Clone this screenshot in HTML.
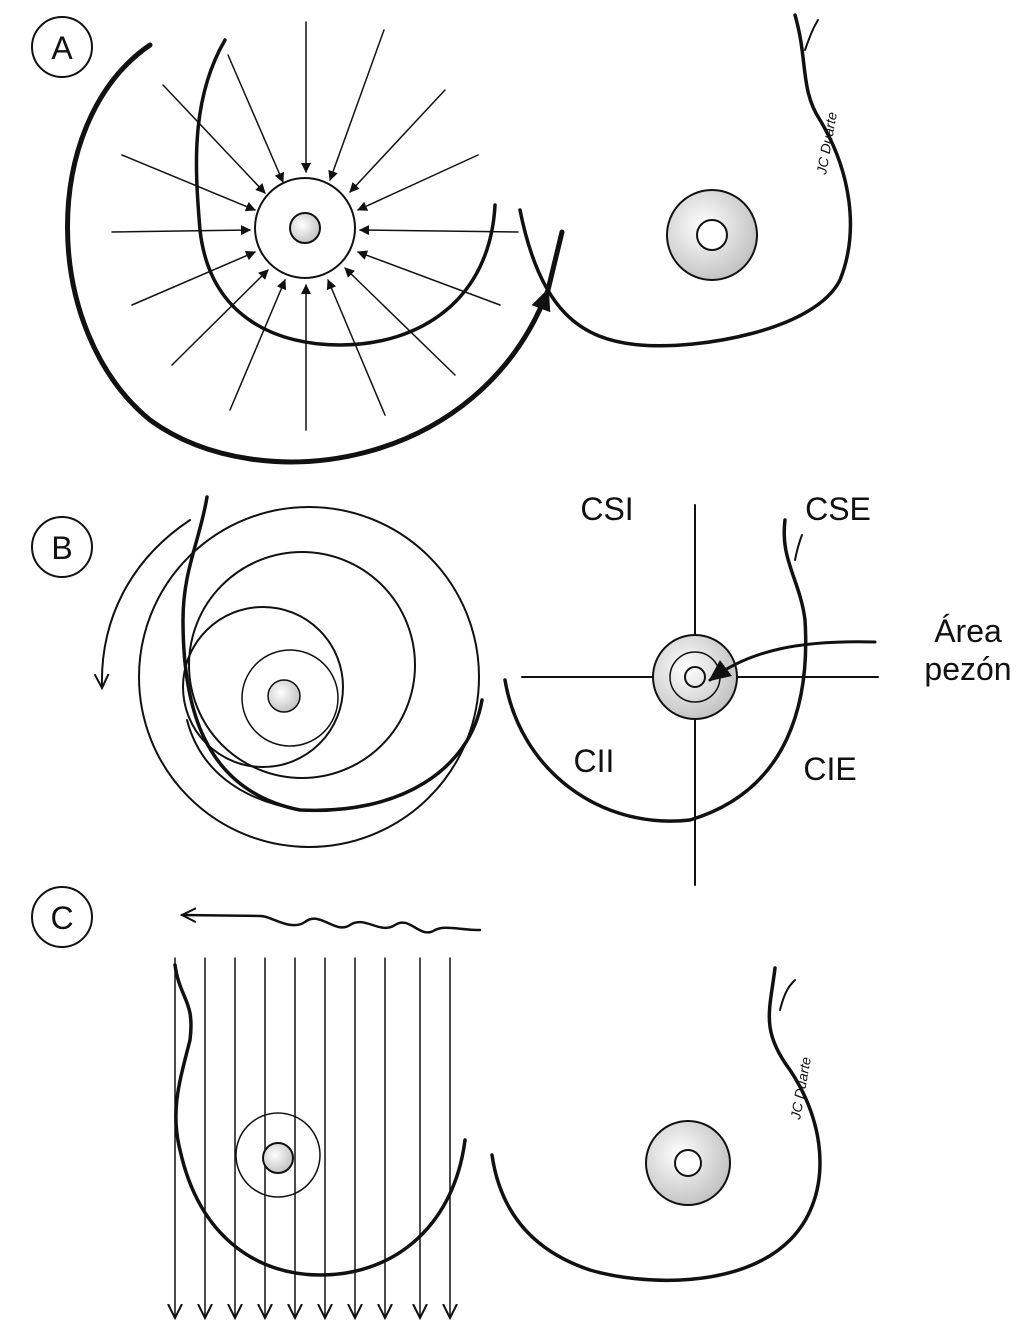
<!DOCTYPE html>
<html><head><meta charset="utf-8"><style>
html,body{margin:0;padding:0;background:#fff}
svg{display:block}
text{font-family:"Liberation Sans",sans-serif;fill:#111}
</style></head><body>
<svg width="1024" height="1336" viewBox="0 0 1024 1336" xmlns="http://www.w3.org/2000/svg">
<defs>
<marker id="ah" markerWidth="10" markerHeight="10" refX="9" refY="5" orient="auto" markerUnits="userSpaceOnUse">
<path d="M0,0 L10,5 L0,10 Z" fill="#111"/></marker>
<marker id="ahb" markerWidth="22" markerHeight="20" refX="20" refY="10" orient="auto" markerUnits="userSpaceOnUse">
<path d="M0,0 L22,10 L0,20 Z" fill="#111"/></marker>
<marker id="ao" markerWidth="16" markerHeight="16" refX="14" refY="8" orient="auto" markerUnits="userSpaceOnUse">
<path d="M0,1 L14,8 L0,15" fill="none" stroke="#111" stroke-width="2"/></marker>
<radialGradient id="g" cx="0.4" cy="0.4" r="0.7"><stop offset="0" stop-color="#fff"/><stop offset="1" stop-color="#bbb"/></radialGradient>
</defs>
<g fill="none" stroke="#111" stroke-linecap="round">
<circle cx="62" cy="47" r="30" stroke-width="2"/>
<circle cx="62" cy="547" r="30" stroke-width="2"/>
<circle cx="62" cy="917" r="30" stroke-width="2"/>

<path d="M150,45 C40,120 40,330 150,420 C260,500 480,470 548,290" stroke-width="5" marker-end="url(#ahb)"/>
<path d="M548,290 L562,232" stroke-width="5"/>
<path d="M225,40 C190,100 195,170 200,230 C210,320 280,345 340,345 C420,345 490,300 495,205" stroke-width="3.5"/>
<g stroke-width="1.5" marker-end="url(#ah)">
<line x1="306" y1="22" x2="306" y2="172"/>
<line x1="228" y1="55" x2="283" y2="182"/>
<line x1="384" y1="30" x2="330" y2="180"/>
<line x1="163" y1="85" x2="265" y2="193"/>
<line x1="445" y1="90" x2="350" y2="192"/>
<line x1="122" y1="155" x2="255" y2="210"/>
<line x1="478" y1="155" x2="358" y2="210"/>
<line x1="112" y1="232" x2="250" y2="230"/>
<line x1="518" y1="232" x2="360" y2="230"/>
<line x1="132" y1="305" x2="255" y2="252"/>
<line x1="500" y1="305" x2="358" y2="252"/>
<line x1="172" y1="365" x2="268" y2="270"/>
<line x1="455" y1="375" x2="345" y2="268"/>
<line x1="230" y1="410" x2="285" y2="280"/>
<line x1="385" y1="415" x2="328" y2="280"/>
<line x1="306" y1="430" x2="306" y2="285"/>
</g>
<circle cx="305" cy="228" r="50" stroke-width="2" fill="#fff"/>
<circle cx="305" cy="228" r="15" stroke-width="2" fill="url(#g)"/>
<path d="M795,15 C808,60 800,90 820,120 C850,170 860,230 840,280 C815,330 700,350 640,345 C580,340 540,310 520,210" stroke-width="3.5"/>
<path d="M805,50 C812,30 815,25 818,20" stroke-width="2"/>
<circle cx="712" cy="235" r="45" stroke-width="2" fill="url(#g)"/>
<circle cx="712" cy="235" r="15" stroke-width="2" fill="#fff"/>

<circle cx="309" cy="677" r="170" stroke-width="2"/>
<path d="M190,520 C130,560 100,620 102,688" stroke-width="2" marker-end="url(#ao)"/>
<circle cx="302" cy="665" r="113" stroke-width="2"/>
<circle cx="263" cy="687" r="80" stroke-width="2"/>
<circle cx="290" cy="698" r="48" stroke-width="1.5"/>
<circle cx="284" cy="696" r="16" stroke-width="1.5" fill="url(#g)"/>
<path d="M207,497 C200,540 183,570 183,620 C183,700 200,790 300,810 C400,815 470,770 482,700" stroke-width="3.5"/>
<path d="M187,720 C200,770 240,800 300,810" stroke-width="2"/>

<line x1="695" y1="505" x2="695" y2="885" stroke-width="2"/>
<line x1="522" y1="677" x2="878" y2="677" stroke-width="2"/>
<path d="M785,520 C780,560 800,580 805,620 C810,700 790,790 690,820 C600,830 520,770 505,680" stroke-width="3.5"/>
<path d="M795,560 C798,545 800,540 802,535" stroke-width="2"/>
<circle cx="695" cy="677" r="42" stroke-width="2" fill="url(#g)"/>
<circle cx="695" cy="677" r="25" stroke-width="1.5"/>
<circle cx="695" cy="677" r="10" stroke-width="2"/>
<path d="M875,642 C800,640 750,650 710,680" stroke-width="3" marker-end="url(#ahb)"/>

<path d="M480,930 C460,930 445,925 435,930 C420,940 410,915 395,925 C380,935 365,915 350,925 C335,935 320,910 305,922 C290,932 270,915 260,916 L182,915" stroke-width="2.5" marker-end="url(#ao)"/>
<path d="M175,965 C180,1000 195,1000 190,1040 C180,1080 170,1110 180,1150 C200,1240 260,1275 320,1275 C400,1275 455,1220 465,1140" stroke-width="3.5"/>
<g stroke-width="1.5" marker-end="url(#ao)">
<line x1="175" y1="958" x2="175" y2="1318"/>
<line x1="205" y1="958" x2="205" y2="1318"/>
<line x1="235" y1="958" x2="235" y2="1318"/>
<line x1="265" y1="958" x2="265" y2="1318"/>
<line x1="295" y1="958" x2="295" y2="1318"/>
<line x1="325" y1="958" x2="325" y2="1318"/>
<line x1="355" y1="958" x2="355" y2="1318"/>
<line x1="385" y1="958" x2="385" y2="1318"/>
<line x1="420" y1="958" x2="420" y2="1318"/>
<line x1="450" y1="958" x2="450" y2="1318"/>
</g>
<circle cx="278" cy="1155" r="42" stroke-width="1.5"/>
<circle cx="278" cy="1158" r="15" stroke-width="2" fill="url(#g)"/>
<path d="M775,968 C770,1010 760,1030 790,1070 C830,1130 830,1200 790,1240 C740,1290 640,1285 590,1270 C530,1250 500,1210 492,1155" stroke-width="3.5"/>
<path d="M780,1010 C785,990 790,985 795,980" stroke-width="2"/>
<circle cx="688" cy="1163" r="42" stroke-width="2" fill="url(#g)"/>
<circle cx="688" cy="1163" r="13" stroke-width="2" fill="#fff"/>
</g>
<text x="62" y="59" font-size="32" text-anchor="middle">A</text>
<text x="62" y="559" font-size="32" text-anchor="middle">B</text>
<text x="62" y="929" font-size="32" text-anchor="middle">C</text>
<text x="607" y="520" font-size="32" text-anchor="middle">CSI</text>
<text x="838" y="520" font-size="32" text-anchor="middle">CSE</text>
<text x="968" y="642" font-size="32" text-anchor="middle">Área</text>
<text x="968" y="680" font-size="32" text-anchor="middle">pezón</text>
<text x="594" y="772" font-size="32" text-anchor="middle">CII</text>
<text x="830" y="780" font-size="32" text-anchor="middle">CIE</text>
<text x="0" y="0" font-size="14" font-style="italic" transform="translate(826,175) rotate(-80)">JC Duarte</text>
<text x="0" y="0" font-size="14" font-style="italic" transform="translate(800,1120) rotate(-80)">JC Duarte</text>
</svg>
</body></html>
